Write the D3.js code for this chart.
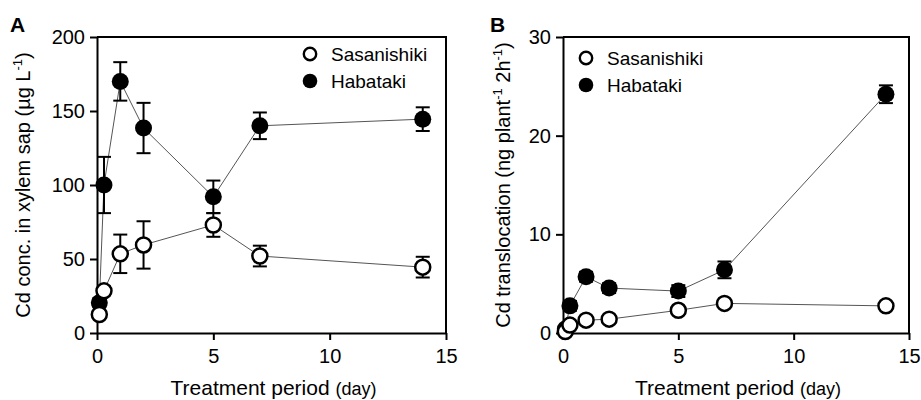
<!DOCTYPE html>
<html>
<head>
<meta charset="utf-8">
<script src="https://cdn.jsdelivr.net/npm/d3@7"></script>
<style>
  body { margin: 0; background: #fff; }
  svg text { font-family: "Liberation Sans", Arial, Helvetica, sans-serif; fill: #000; }
</style>
</head>
<body>
<svg id="chart" width="921" height="400"></svg>
<script>
// sampling days (first two points are a few hours in)
var days = [0.1, 0.3, 1, 2, 5, 7, 14];
var xTicks = [0, 5, 10, 15];

// A: Cd concentration in xylem sap (ug/L)
var concSasa    = [12.5, 28.5, 53.5, 59.5, 73, 52, 44.5];
var concSasaErr = [2, 3, 13, 16, 8, 7, 7];
var concHaba    = [20.5, 100, 170, 138.5, 92, 140, 144.5];
var concHabaErr = [3, 19, 13, 17, 11, 9, 8];
var yTicksA = [0, 50, 100, 150, 200];

// B: Cd translocation (ng / plant / 2h)
var transSasa    = [0.15, 0.8, 1.3, 1.4, 2.3, 3.0, 2.75];
var transSasaErr = [0.1, 0.2, 0.2, 0.2, 0.3, 0.3, 0.3];
var transHaba    = [0.4, 2.75, 5.7, 4.55, 4.25, 6.4, 24.2];
var transHabaErr = [0.1, 0.5, 0.5, 0.5, 0.6, 0.85, 0.9];
var yTicksB = [0, 10, 20, 30];

var svg = d3.select("#chart");

function drawPanel(opts) {
  var x = d3.scaleLinear().domain([0, 15]).range([opts.left, opts.right]);
  var y = d3.scaleLinear().domain(opts.yDomain).range([opts.bottom, opts.top]);
  var g = svg.append("g");

  // frame (top + right)
  g.append("path")
    .attr("d", "M" + opts.left + "," + opts.top + "H" + opts.right + "V" + opts.bottom)
    .attr("fill", "none")
    .attr("stroke", "#000")
    .attr("stroke-width", 2);

  var xAxis = g.append("g")
    .attr("transform", "translate(0," + opts.bottom + ")")
    .call(d3.axisBottom(x).tickValues(xTicks).tickSize(7).tickSizeOuter(0).tickPadding(9));
  var yAxis = g.append("g")
    .attr("transform", "translate(" + opts.left + ",0)")
    .call(d3.axisLeft(y).tickValues(opts.yTicks).tickSize(7).tickSizeOuter(0).tickPadding(5));

  [xAxis, yAxis].forEach(function(a) {
    a.select(".domain").attr("stroke-width", 2);
    a.selectAll(".tick line").attr("stroke-width", 2);
    a.selectAll("text").attr("font-size", 20).attr("font-family", null);
  });

  var series = [
    { vals: opts.haba, err: opts.habaErr, fill: "#000" },
    { vals: opts.sasa, err: opts.sasaErr, fill: "#fff" }
  ];

  var line = d3.line()
    .x(function(d) { return x(d[0]); })
    .y(function(d) { return y(d[1]); });

  series.forEach(function(s) {
    g.append("path")
      .datum(d3.zip(days, s.vals))
      .attr("d", line)
      .attr("fill", "none")
      .attr("stroke", "#555")
      .attr("stroke-width", 1);
  });

  series.forEach(function(s) {
    var pts = d3.zip(days, s.vals, s.err);
    var eb = g.append("g").attr("stroke", "#000").attr("stroke-width", 2);
    pts.forEach(function(p) {
      var cx = x(p[0]), hi = y(p[1] + p[2]), lo = y(p[1] - p[2]);
      eb.append("line").attr("x1", cx).attr("x2", cx).attr("y1", hi).attr("y2", lo);
      eb.append("line").attr("x1", cx - 7).attr("x2", cx + 7).attr("y1", hi).attr("y2", hi);
      eb.append("line").attr("x1", cx - 7).attr("x2", cx + 7).attr("y1", lo).attr("y2", lo);
    });
  });

  series.forEach(function(s) {
    g.append("g").selectAll("circle")
      .data(d3.zip(days, s.vals))
      .join("circle")
      .attr("cx", function(d) { return x(d[0]); })
      .attr("cy", function(d) { return y(d[1]); })
      .attr("r", s.fill == "#000" ? 8.5 : 7.5)
      .attr("fill", s.fill)
      .attr("stroke", "#000")
      .attr("stroke-width", s.fill == "#000" ? 0 : 2.5);
  });

  // legend
  var leg = g.append("g").attr("transform", "translate(" + opts.legX + "," + opts.legY + ")");
  [["Sasanishiki", "#fff"], ["Habataki", "#000"]].forEach(function(item, i) {
    leg.append("circle")
      .attr("cx", 0).attr("cy", i * 27)
      .attr("r", item[1] == "#000" ? 7.3 : 6.2)
      .attr("fill", item[1])
      .attr("stroke", "#000")
      .attr("stroke-width", item[1] == "#000" ? 0 : 2.4);
    leg.append("text")
      .attr("x", 21).attr("y", i * 27)
      .attr("dy", "0.35em")
      .attr("font-size", 19)
      .text(item[0]);
  });

  // panel letter
  g.append("text")
    .attr("x", opts.letterX).attr("y", 32)
    .attr("font-size", 21)
    .attr("font-weight", "bold")
    .text(opts.letter);

  // x title
  var xt = g.append("text")
    .attr("x", (opts.left + opts.right) / 2 + 2)
    .attr("y", 395)
    .attr("text-anchor", "middle")
    .attr("font-size", 21);
  xt.append("tspan").text("Treatment period ");
  xt.append("tspan").attr("font-size", 18).text("(day)");

  // y title, superscripts shift up and the next part comes back down
  var yt = g.append("text")
    .attr("transform", "translate(" + opts.yTitleX + "," + ((opts.top + opts.bottom) / 2) + ") rotate(-90)")
    .attr("text-anchor", "middle")
    .attr("font-size", 20);
  var shift = 0;
  opts.yTitle.forEach(function(part) {
    var ts = yt.append("tspan").text(part.t);
    if (part.sup) {
      ts.attr("font-size", 13).attr("dy", -8 - shift);
      shift = -8;
    } else if (shift) {
      ts.attr("dy", 8);
      shift = 0;
    }
  });
}

drawPanel({
  left: 97, right: 446, top: 37, bottom: 333,
  yDomain: [0, 200], yTicks: yTicksA,
  sasa: concSasa, sasaErr: concSasaErr, haba: concHaba, habaErr: concHabaErr,
  legX: 310, legY: 54,
  letter: "A", letterX: 10,
  yTitleX: 30,
  yTitle: [{ t: "Cd conc. in xylem sap (\u00b5g L" }, { t: "-1", sup: true }, { t: ")" }]
});

drawPanel({
  left: 563, right: 909, top: 37, bottom: 333,
  yDomain: [0, 30], yTicks: yTicksB,
  sasa: transSasa, sasaErr: transSasaErr, haba: transHaba, habaErr: transHabaErr,
  legX: 586, legY: 58,
  letter: "B", letterX: 490,
  yTitleX: 510,
  yTitle: [{ t: "Cd translocation (ng plant" }, { t: "-1", sup: true }, { t: " 2h" }, { t: "-1", sup: true }, { t: ")" }]
});
</script>
</body>
</html>
